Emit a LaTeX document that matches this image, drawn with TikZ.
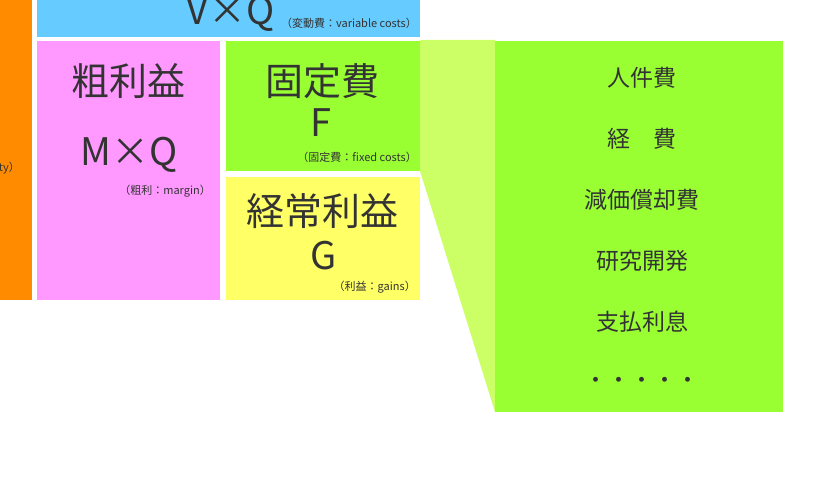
\documentclass[tikz,border=0pt]{standalone}
\usepackage{fontspec}
\setmainfont{Noto Sans CJK JP}
\definecolor{cOrange}{HTML}{FF8C00}
\definecolor{cBlue}{HTML}{66CCFF}
\definecolor{cPink}{HTML}{FF99FF}
\definecolor{cGreen}{HTML}{99FF33}
\definecolor{cYellow}{HTML}{FFFF66}
\definecolor{cLight}{HTML}{CCFF66}
\definecolor{cText}{HTML}{333333}
\begin{document}
\begin{tikzpicture}[x=1pt,y=-1pt,
  big/.style={text=cText,font=\fontsize{38}{40}\selectfont,inner sep=0pt},
  small/.style={text=cText,font=\fontsize{11}{13}\selectfont,inner sep=0pt},
  item/.style={text=cText,font=\fontsize{23}{26}\selectfont,inner sep=0pt}]
\useasboundingbox (0,0) rectangle (825,500);
\begin{scope}
\clip (0,0) rectangle (825,500);
% blocks
\fill[cOrange] (0,-5) rectangle (32,300);
\fill[cBlue] (37,-5) rectangle (420,37);
\fill[cPink] (37,41) rectangle (220,300);
\fill[cGreen] (226,41) rectangle (420,171);
\fill[cYellow] (226,177) rectangle (420,300);
\fill[cLight] (420,40) -- (495,40) -- (495,412) -- (420,171) -- cycle;
\fill[cGreen] (495,41) rectangle (783,412);
% texts
\node[small,anchor=east] (qty) at (20,168) {ty）};
\node[big,anchor=base] (vq) at (231,25) {V×Q};
\node[small,anchor=east] (vc) at (417,23) {（変動費：variable costs）};
\node[big] (m) at (128,81) {粗利益};
\node[big,anchor=base] (mq) at (129,166) {M×Q};
\node[small,anchor=east] (mg) at (211,191) {（粗利：margin）};
\node[big] (f) at (322,81) {固定費};
\node[big,anchor=base] (fl) at (321,137) {F};
\node[small,anchor=east] (fc) at (417,157) {（固定費：fixed costs）};
\node[big] (g) at (322,211) {経常利益};
\node[big,anchor=base] (gl) at (324,269) {G};
\node[small,anchor=east] (gn) at (416,287) {（利益：gains）};
\node[item] (i1) at (642,78) {人件費};
\node[item] (i2) at (642,139) {経　費};
\node[item] (i3) at (642,200) {減価償却費};
\node[item] (i4) at (642,261) {研究開発};
\node[item] (i5) at (642,322) {支払利息};
\node[item] (i6) at (642,383) {・・・・・};
\end{scope}
\end{tikzpicture}
\end{document}
